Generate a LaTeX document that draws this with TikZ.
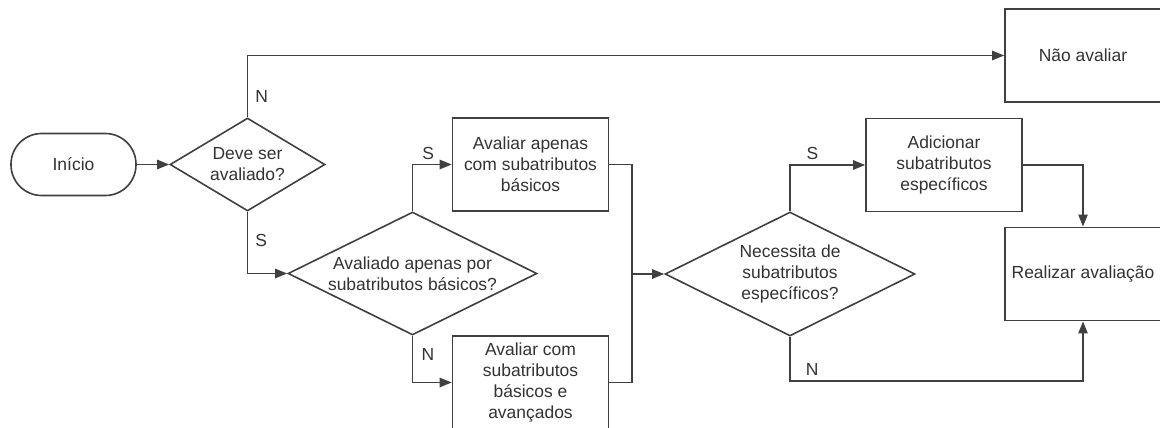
\documentclass[tikz,border=0pt]{standalone}
\usepackage{fontspec}
\setmainfont{Liberation Sans}
\usetikzlibrary{shapes.geometric,arrows.meta}

\begin{document}
\begin{tikzpicture}[x=0.75pt,y=-0.75pt,
        every node/.style={font=\fontsize{13.1pt}{15.75pt}\selectfont,text=black!80,align=center},
        flowline/.style={draw=black!75,line width=1.2pt},
        terminal/.style={flowline,rectangle,rounded corners=23pt,minimum width=93.75pt,minimum height=46.5pt},
        process/.style={flowline,rectangle,minimum width=117pt,minimum height=70pt},
        decision/.style={flowline,diamond,inner sep=0pt},
        >={Triangle[length=9pt,width=7pt]}]
        \path[use as bounding box,fill=white] (0,0) rectangle (1160,428);

        \node[terminal] (start) at (73.5,164.5) {Início};
        \node[decision,minimum width=116.25pt,minimum height=69.75pt,label={center:Deve ser\\avaliado?}] (eval) at (247.5,164.5) {};
        \node[decision,minimum width=186.75pt,minimum height=92.25pt,label={center:Avaliado apenas por\\subatributos básicos?}] (basic) at (412.5,273.5) {};
        \node[process] (onlybasic) at (530.5,164.5) {Avaliar apenas\\com subatributos\\básicos};
        \node[process] (advanced) at (530.5,382.5) {Avaliar com\\subatributos\\básicos e\\avançados};
        \node[decision,minimum width=187.5pt,minimum height=93pt,label={center:Necessita de\\subatributos\\específicos?}] (specific) at (790,274) {};
        \node[process] (addspec) at (944,165) {Adicionar\\subatributos\\específicos};
        \node[process] (noeval) at (1083,55.5) {Não avaliar};
        \node[process] (doeval) at (1083,274) {Realizar avaliação};
        \coordinate (merge) at (632,274);

        \draw[flowline,->] (start) -- (eval);
        \draw[flowline,->] (eval.north) |- node[pos=.17,right,xshift=2pt] {N} (noeval.west);
        \draw[flowline,->] (eval.south) |- node[pos=.23,right,xshift=2pt] {S} (basic.west);
        \draw[flowline,->] (basic.north) |- node[pos=.7,above] {S} (onlybasic.west);
        \draw[flowline,->] (basic.south) |- node[pos=.2,right,xshift=3pt] {N} (advanced.west);
        \draw[flowline] (onlybasic.east) -| (merge);
        \draw[flowline] (advanced.east) -| (merge);
        \draw[flowline,->] (merge) -- (specific.west);
        \draw[flowline,->] (specific.north) |- node[pos=.65,above] {S} (addspec.west);
        \draw[flowline,->] (specific.south) -- ++(0,44) node[above right,xshift=8pt] {N} -| (doeval.south);
        \draw[flowline,->] (addspec.east) -| (doeval.north);
\end{tikzpicture}
\end{document}
